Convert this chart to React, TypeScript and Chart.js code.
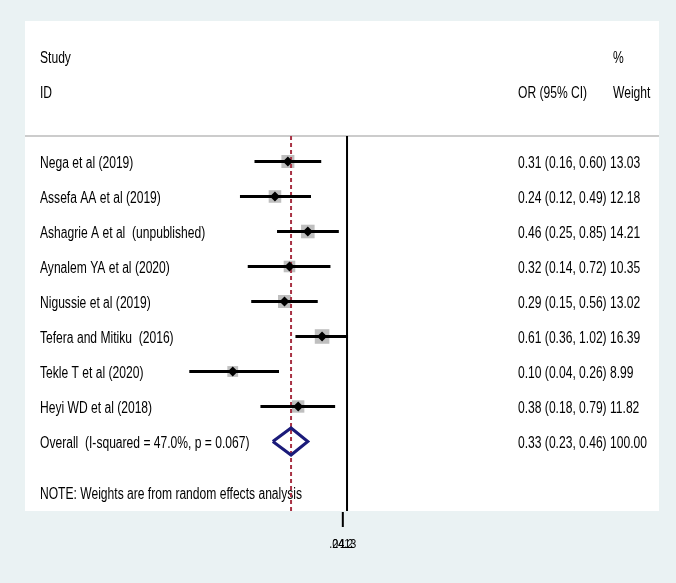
import { useEffect, useRef } from 'react';
import { Chart, registerables } from 'chart.js';

Chart.register(...registerables);

// ---- data ----
const STUDIES = [
  'Nega et al (2019)',
  'Assefa AA et al (2019)',
  'Ashagrie A et al  (unpublished)',
  'Aynalem YA et al (2020)',
  'Nigussie et al (2019)',
  'Tefera and Mitiku  (2016)',
  'Tekle T et al (2020)',
  'Heyi WD et al (2018)',
];
const OR_VALUES = [0.31, 0.24, 0.46, 0.32, 0.29, 0.61, 0.104, 0.38];
const CI_LOWER = [0.16, 0.12, 0.25, 0.14, 0.15, 0.36, 0.044, 0.18];
const CI_UPPER = [0.6, 0.49, 0.85, 0.72, 0.56, 1.02, 0.26, 0.79];
const WEIGHTS = [13.03, 12.18, 14.21, 10.35, 13.02, 16.39, 8.99, 11.82];

const OVERALL_LABEL = 'Overall  (I-squared = 47.0%, p = 0.067)';
const OVERALL_OR = 0.33;
const OVERALL_LOWER = 0.23;
const OVERALL_UPPER = 0.46;
const OVERALL_WEIGHT = 100.0;

const NOTE_TEXT = 'NOTE: Weights are from random effects analysis';
const HEADER_LEFT = ['Study', 'ID'];
const HEADER_MID = ['', 'OR (95% CI)'];
const HEADER_RIGHT = ['%', 'Weight'];
const TICK_LABELS = ['.0413', '1', '24.2'];

// row layout (y scale units)
const HEADER_ROWS = [-2, -1];
const SEPARATOR_ROW = 0.27;
const OVERALL_ROW = STUDIES.length + 1;
const NOTE_ROW = 10.43;
const Y_MIN = -3.014;
const Y_MAX = 10.986;
const X_MIN = 0.0017;
const X_MAX = 482;
const NULL_VALUE = 1;
const AXIS_TICK_VALUE = 0.92;
const DIAMOND_HALF = 0.386;

const BG = '#eaf2f3';
const FONT = '"Liberation Sans", Arial, Helvetica, sans-serif';
const SQUEEZE = 0.755;

function fmt(v: number) {
  return v.toFixed(2);
}

export default function App() {
  const ref = useRef<HTMLCanvasElement | null>(null);

  useEffect(() => {
    const canvas = ref.current;
    if (!canvas) return;

    const rows = STUDIES.map((_, i) => i + 1);

    const ciDatasets = STUDIES.map((s, i) => ({
      label: s,
      data: [
        { x: CI_LOWER[i], y: rows[i] },
        { x: CI_UPPER[i], y: rows[i] },
      ],
      showLine: true,
      borderColor: '#000000',
      borderWidth: 3,
      pointRadius: 0,
      borderCapStyle: 'butt' as const,
    }));

    const drawText = (
      ctx: CanvasRenderingContext2D,
      text: string,
      x: number,
      y: number,
      size: number,
      squeeze: number,
      align: CanvasTextAlign = 'left'
    ) => {
      ctx.save();
      ctx.translate(x, y);
      ctx.scale(squeeze, 1);
      ctx.font = `${size}px ${FONT}`;
      ctx.textAlign = align;
      ctx.textBaseline = 'alphabetic';
      ctx.fillStyle = '#000000';
      ctx.fillText(text, 0, 0);
      ctx.restore();
    };

    const backgroundPlugin = {
      id: 'bgPanel',
      beforeDraw(chart: any) {
        const { ctx, chartArea } = chart;
        ctx.save();
        ctx.fillStyle = BG;
        ctx.fillRect(0, 0, chart.width, chart.height);
        ctx.fillStyle = '#ffffff';
        ctx.fillRect(
          chartArea.left,
          chartArea.top,
          chartArea.right - chartArea.left,
          chartArea.bottom - chartArea.top
        );
        ctx.restore();
      },
      beforeDatasetsDraw(chart: any) {
        const { ctx, scales } = chart;
        const y = scales.y;
        const leftX = 40;
        const midX = 518;
        const rightX = 610;
        const off = 7;
        HEADER_ROWS.forEach((r, i) => {
          const py = y.getPixelForValue(r) + off;
          drawText(ctx, HEADER_LEFT[i], leftX, py, 16, SQUEEZE);
          if (HEADER_MID[i]) drawText(ctx, HEADER_MID[i], midX, py, 16, SQUEEZE);
          drawText(ctx, HEADER_RIGHT[i], rightX + 3, py, 16, SQUEEZE);
        });
        STUDIES.forEach((s, i) => {
          const py = y.getPixelForValue(i + 1) + off;
          drawText(ctx, s, leftX, py, 16, SQUEEZE);
          drawText(
            ctx,
            `${fmt(OR_VALUES[i])} (${fmt(CI_LOWER[i])}, ${fmt(CI_UPPER[i])})`,
            midX,
            py,
            16,
            SQUEEZE
          );
          drawText(ctx, fmt(WEIGHTS[i]), rightX, py, 16, SQUEEZE);
        });
        const po = y.getPixelForValue(OVERALL_ROW) + off;
        drawText(ctx, OVERALL_LABEL, leftX, po, 16, SQUEEZE);
        drawText(
          ctx,
          `${fmt(OVERALL_OR)} (${fmt(OVERALL_LOWER)}, ${fmt(OVERALL_UPPER)})`,
          midX,
          po,
          16,
          SQUEEZE
        );
        drawText(ctx, fmt(OVERALL_WEIGHT), rightX, po, 16, SQUEEZE);
        const pn = y.getPixelForValue(NOTE_ROW) + off;
        drawText(ctx, NOTE_TEXT, leftX, pn, 16, SQUEEZE);
      },
      afterDraw(chart: any) {
        const { ctx, scales, chartArea } = chart;
        const tx = scales.x.getPixelForValue(AXIS_TICK_VALUE);
        ctx.save();
        ctx.strokeStyle = '#000000';
        ctx.lineWidth = 2;
        ctx.beginPath();
        ctx.moveTo(tx, chartArea.bottom + 1);
        ctx.lineTo(tx, chartArea.bottom + 16);
        ctx.stroke();
        ctx.restore();
        TICK_LABELS.forEach((t) => {
          drawText(ctx, t, tx, chartArea.bottom + 37, 12, 0.9, 'center');
        });
      },
    };

    const chart = new Chart(canvas, {
      type: 'scatter',
      data: {
        datasets: [
          {
            label: 'point',
            data: OR_VALUES.map((v, i) => ({ x: v, y: rows[i] })),
            pointStyle: 'rectRot',
            pointRadius: 5,
            pointBorderWidth: 0,
            backgroundColor: '#000000',
            borderColor: '#000000',
          },
          ...ciDatasets,
          {
            label: 'overall',
            data: [
              { x: OVERALL_LOWER, y: OVERALL_ROW },
              { x: OVERALL_OR, y: OVERALL_ROW - DIAMOND_HALF },
              { x: OVERALL_UPPER, y: OVERALL_ROW },
              { x: OVERALL_OR, y: OVERALL_ROW + DIAMOND_HALF },
              { x: OVERALL_LOWER, y: OVERALL_ROW },
            ],
            showLine: true,
            borderColor: '#1b1b7a',
            borderWidth: 3,
            pointRadius: 0,
            borderJoinStyle: 'miter' as const,
          },
          {
            label: 'null',
            data: [
              { x: NULL_VALUE, y: SEPARATOR_ROW },
              { x: NULL_VALUE, y: Y_MAX },
            ],
            showLine: true,
            borderColor: '#000000',
            borderWidth: 2,
            pointRadius: 0,
          },
          {
            label: 'overall line',
            data: [
              { x: OVERALL_OR, y: SEPARATOR_ROW },
              { x: OVERALL_OR, y: Y_MAX },
            ],
            showLine: true,
            borderColor: '#a83244',
            borderWidth: 2,
            borderDash: [4, 3],
            pointRadius: 0,
          },
          {
            label: 'weights',
            data: OR_VALUES.map((v, i) => ({ x: v, y: rows[i] })),
            pointStyle: 'rect',
            pointRadius: (c: any) => {
              const w = WEIGHTS[c.dataIndex] ?? 0;
              return (3.6 * Math.sqrt(w)) / Math.SQRT2;
            },
            pointBorderWidth: 0,
            backgroundColor: '#bfbfbf',
            borderColor: '#bfbfbf',
          },
          {
            label: 'separator',
            data: [
              { x: X_MIN, y: SEPARATOR_ROW },
              { x: X_MAX, y: SEPARATOR_ROW },
            ],
            showLine: true,
            borderColor: '#cccccc',
            borderWidth: 2,
            pointRadius: 0,
          },
        ],
      },
      options: {
        responsive: false,
        animation: false,
        devicePixelRatio: 1,
        layout: { padding: { left: 25, right: 17, top: 21, bottom: 72 } },
        scales: {
          x: { type: 'logarithmic', min: X_MIN, max: X_MAX, display: false },
          y: { type: 'linear', min: Y_MIN, max: Y_MAX, reverse: true, display: false },
        },
        plugins: {
          legend: { display: false },
          tooltip: { enabled: false },
        },
        events: [],
      },
      plugins: [backgroundPlugin],
    });

    return () => chart.destroy();
  }, []);

  return (
    <div style={{ position: 'absolute', left: 0, top: 0, width: 676, height: 583 }}>
      <canvas ref={ref} width={676} height={583} style={{ display: 'block' }} />
    </div>
  );
}
